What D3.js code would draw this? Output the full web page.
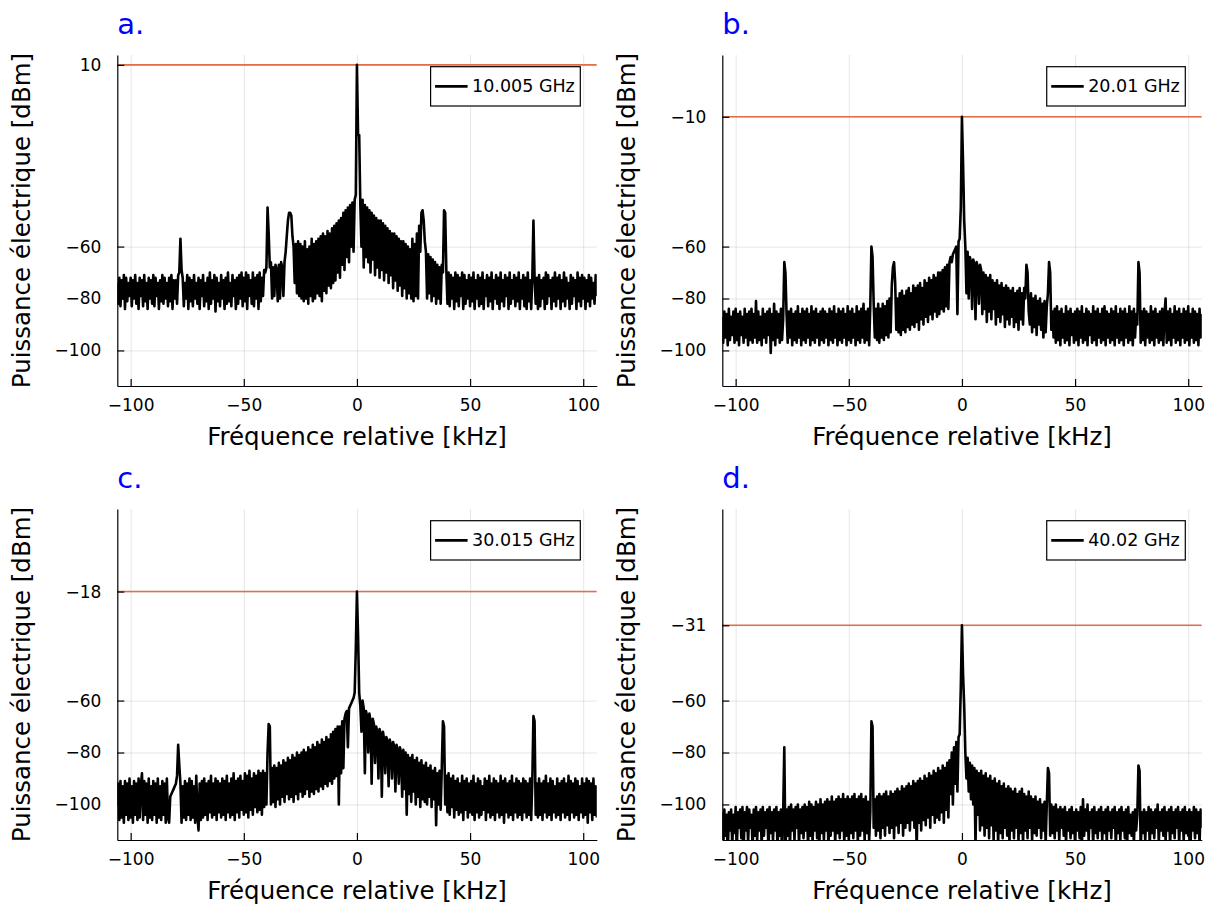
<!DOCTYPE html>
<html>
<head>
<meta charset="utf-8">
<script src="https://d3js.org/d3.v7.min.js"></script>
<style>
    body { margin: 0; background: #fff; }
    svg { font-family: "DejaVu Sans", sans-serif; }
    .grid line { stroke: #000; stroke-opacity: 0.1; stroke-width: 1; }
    .grid path { display: none; }
    .axis path, .axis line { stroke: #000; stroke-width: 1.2; }
    .axis text { font-size: 17px; fill: #000; }
</style>
</head>
<body>
<script>
    // Frequency grid (kHz), one sample every 0.5 kHz from -106 to 106
    var freqs = d3.range(-106, 106.25, 0.5);

    // Panel texts
    var panelTitles = ["a.", "b.", "c.", "d."];
    var legendLabels = ["10.005 GHz", "20.01 GHz", "30.015 GHz", "40.02 GHz"];
    var peakLevels = [10, -10, -18, -31];
    var xTicks = [-100, -50, 0, 50, 100];
    var yTicks = [[10, -60, -80, -100], [-10, -60, -80, -100], [-18, -60, -80, -100], [-31, -60, -80, -100]];

    // Spectra (dBm)
    var specA = [
        -74,-82,-72,-83,-73,-80,-71,-84,-72,-81,-74,-79,                                   // -106 .. -100.5
        -72,-83,-73,-80,-71,-82,-74,-84,-72,-79,-73,-83,-71,-81,-74,-84,-72,-80,-73,-82,   // -100 .. -90.5
        -71,-83,-72,-79,-74,-84,-73,-81,-71,-82,-72,-80,-74,-83,-72,-81,-71,-84,-73,-80,   // -90
        -73,-82,-71,-70,-57,-69,-72,-83,-74,-80,-71,-84,-72,-81,-73,-83,-71,-80,-74,-82,   // -80
        -72,-84,-73,-79,-71,-83,-74,-81,-72,-84,-70,-82,-73,-80,-71,-85,-72,-81,-74,-83,   // -70
        -71,-80,-73,-84,-72,-82,-70,-81,-74,-83,-71,-79,-73,-84,-72,-82,-71,-80,-70,-83,   // -60
        -72,-81,-70,-84,-71,-79,-73,-82,-70,-83,-72,-80,-71,-84,-70,-81,-72,-79,-69,-70,   // -50
        -68,-45,-55,-68,-66,-80,-68,-79,-67,-69,-81,-67,-80,-66,-68,-79,-66,-62,-56,-50,   // -40
        -47,-47,-48,-56,-60,-74,-59,-78,-58,-79,-59,-80,-60,-81,-58,-80,-61,-82,-60,-79,   // -30
        -57,-81,-59,-80,-58,-78,-57,-79,-56,-81,-55,-77,-56,-78,-54,-75,-55,-76,-53,-74,   // -20
        -52,-73,-51,-70,-50,-72,-49,-67,-47,-69,-46,-64,-45,-66,-44,-60,-43,-62,-42,-40,   // -10
        10,                                                                                // 0
        -17,-17,-44,-60,-42,-68,-44,-64,-45,-66,-46,-70,-47,-65,-48,-71,-49,-68,-50,-72,   // 0.5 .. 10
        -50,-69,-51,-73,-52,-70,-53,-74,-54,-71,-55,-76,-55,-73,-56,-77,-57,-75,-58,-79,   // 10.5
        -58,-76,-59,-80,-60,-78,-61,-80,-57,-81,-59,-79,-55,-80,-52,-62,-47,-46,-50,-58,   // 20.5
        -62,-80,-63,-78,-64,-81,-65,-79,-66,-82,-67,-80,-68,-82,-67,-70,-46,-47,-69,-82,   // 30.5
        -70,-83,-71,-80,-72,-84,-70,-81,-71,-83,-72,-79,-70,-84,-71,-82,-73,-80,-71,-83,   // 40.5
        -72,-81,-70,-84,-73,-80,-71,-83,-72,-82,-70,-84,-73,-79,-71,-83,-72,-81,-70,-84,   // 50.5
        -73,-80,-71,-82,-72,-84,-70,-81,-73,-83,-71,-79,-72,-84,-70,-82,-73,-80,-71,-83,   // 60.5
        -72,-81,-70,-84,-73,-80,-71,-83,-72,-84,-70,-81,-73,-84,-72,-50,-72,-82,-72,-84,   // 70.5
        -71,-83,-73,-80,-72,-84,-70,-82,-71,-79,-73,-84,-72,-81,-70,-83,-72,-80,-71,-84,   // 80.5
        -73,-81,-70,-83,-72,-80,-74,-84,-71,-82,-72,-79,-73,-84,-70,-81,-72,-83,-71,-80,   // 90.5
        -72,-84,-73,-81,-71,-83,-72,-80,-74,-82,-71,-79                                    // 100.5 .. 106
    ];

    var specB = [
        -87,-97,-85,-95,-86,-98,-84,-96,-87,-94,-85,-97,
        -84,-96,-86,-98,-85,-94,-87,-97,-84,-95,-86,-98,-85,-96,-84,-97,-86,-95,-81,-97,
        -85,-96,-87,-98,-84,-95,-86,-97,-85,-94,-84,-101,-86,-96,-82,-98,-85,-95,-86,-97,
        -84,-96,-88,-66,-70,-86,-97,-85,-95,-84,-98,-86,-96,-85,-97,-83,-95,-86,-98,-84,
        -96,-85,-97,-84,-95,-86,-98,-83,-96,-85,-97,-84,-95,-86,-98,-85,-96,-84,-97,-85,
        -95,-86,-98,-84,-96,-85,-97,-83,-95,-86,-98,-84,-96,-85,-97,-84,-95,-86,-98,-83,
        -96,-85,-97,-84,-95,-86,-98,-83,-96,-85,-97,-84,-95,-82,-97,-85,-96,-84,-98,-83,
        -60,-64,-82,-95,-84,-96,-82,-97,-84,-95,-82,-96,-83,-94,-81,-95,-80,-93,-75,-68,
        -66,-74,-92,-80,-93,-78,-94,-77,-92,-79,-93,-77,-91,-76,-92,-78,-90,-75,-91,-76,
        -89,-75,-92,-74,-88,-76,-90,-73,-87,-74,-89,-72,-86,-73,-88,-71,-85,-72,-87,-70,
        -86,-70,-84,-69,-85,-68,-83,-67,-84,-66,-64,-66,-63,-62,-61,-60,-86,-58,-57,-45,
        -10,
        -28,-50,-60,-78,-62,-80,-64,-66,-84,-65,-67,-88,-66,-68,-82,-67,-69,-86,-70,-84,
        -71,-89,-72,-85,-71,-88,-73,-84,-74,-90,-73,-87,-75,-89,-74,-86,-76,-91,-75,-88,
        -76,-90,-77,-87,-76,-91,-78,-89,-77,-92,-76,-88,-78,-90,-76,-80,-67,-70,-85,-90,
        -78,-93,-80,-91,-79,-94,-81,-90,-80,-92,-82,-95,-81,-93,-83,-78,-66,-70,-92,-85,
        -95,-84,-97,-83,-96,-85,-98,-84,-95,-86,-97,-83,-96,-85,-98,-84,-94,-86,-97,-85,
        -96,-84,-98,-85,-95,-83,-97,-86,-96,-84,-98,-85,-94,-86,-97,-83,-96,-85,-98,-84,
        -95,-86,-97,-84,-96,-83,-98,-85,-95,-86,-97,-84,-96,-85,-98,-83,-95,-86,-97,-84,
        -96,-85,-98,-84,-95,-86,-97,-83,-96,-85,-98,-84,-95,-86,-90,-66,-70,-97,-85,-96,
        -84,-98,-85,-95,-86,-97,-83,-96,-85,-98,-84,-95,-86,-97,-85,-96,-84,-98,-86,-80,
        -97,-85,-96,-84,-98,-86,-95,-83,-97,-85,-96,-84,-98,-86,-95,-84,-97,-85,-96,-83,
        -98,-86,-95,-84,-97,-85,-96,-86,-98,-84,-95,-86
    ];

    var specC = [
        -100,-92,-106,-91,-105,-93,-107,-91,-104,-92,-106,-90,
        -105,-93,-107,-91,-104,-92,-106,-90,-105,-93,-88,-106,-91,-104,-92,-107,-90,-105,-93,-106,
        -91,-104,-92,-107,-90,-105,-93,-106,-91,-104,-92,-107,-90,-105,-107,-97,-96,-95,-94,-93,
        -92,-89,-77,-85,-92,-107,-93,-105,-91,-106,-92,-104,-90,-106,-91,-105,-93,-107,-89,-104,
        -110,-92,-106,-91,-105,-90,-104,-92,-106,-91,-103,-89,-105,-92,-104,-90,-106,-91,-103,-92,
        -105,-90,-104,-91,-106,-89,-103,-92,-105,-90,-104,-88,-106,-91,-103,-90,-105,-89,-102,-91,
        -104,-88,-103,-89,-105,-87,-102,-90,-104,-88,-101,-89,-103,-87,-102,-88,-104,-87,-101,-88,
        -100,-80,-69,-70,-100,-86,-99,-85,-101,-86,-98,-84,-100,-85,-97,-83,-99,-84,-96,-82,
        -98,-83,-97,-81,-99,-82,-96,-80,-98,-81,-95,-80,-97,-79,-96,-80,-94,-78,-97,-79,
        -95,-77,-96,-78,-94,-76,-95,-77,-93,-75,-94,-76,-92,-74,-93,-75,-91,-73,-92,-72,
        -90,-71,-89,-70,-100,-70,-88,-68,-86,-67,-65,-64,-78,-63,-62,-61,-60,-59,-57,-40,
        -18,
        -35,-57,-62,-72,-60,-63,-88,-64,-66,-80,-65,-68,-92,-67,-69,-84,-70,-72,-90,-71,
        -73,-97,-72,-75,-88,-74,-76,-93,-75,-77,-90,-76,-78,-95,-77,-79,-92,-78,-80,-97,
        -79,-94,-80,-104,-81,-96,-82,-99,-81,-95,-83,-100,-82,-97,-84,-101,-83,-98,-85,-99,
        -84,-100,-86,-97,-85,-101,-87,-98,-86,-108,-88,-100,-87,-102,-86,-68,-70,-100,-89,-103,
        -88,-104,-90,-101,-89,-105,-91,-102,-90,-104,-92,-103,-89,-106,-91,-102,-90,-105,-92,-103,
        -91,-104,-89,-106,-92,-103,-90,-105,-91,-104,-93,-102,-90,-106,-91,-103,-89,-105,-92,-104,
        -90,-106,-91,-103,-92,-105,-89,-104,-91,-107,-90,-103,-92,-105,-91,-104,-89,-106,-92,-103,
        -90,-105,-91,-104,-92,-106,-90,-103,-91,-105,-92,-104,-90,-106,-91,-66,-68,-104,-92,-105,
        -90,-104,-92,-106,-91,-103,-89,-105,-92,-104,-90,-106,-91,-103,-93,-105,-90,-104,-92,-106,
        -91,-103,-90,-105,-92,-104,-89,-106,-91,-103,-92,-105,-90,-104,-91,-106,-93,-103,-90,-105,
        -92,-104,-90,-107,-91,-103,-92,-106,-90,-104,-93,-105
    ];

    var specD = [
        -103,-118,-102,-112,-104,-120,-103,-110,-102,-116,-104,-111,
        -101,-118,-103,-109,-102,-113,-101,-119,-103,-110,-101,-115,-102,-109,-104,-117,-102,-112,-101,-114,
        -103,-110,-102,-116,-101,-112,-103,-109,-102,-118,-101,-111,-103,-114,-102,-110,-101,-117,-103,-112,
        -102,-120,-103,-78,-119,-102,-112,-101,-117,-100,-110,-102,-114,-101,-109,-100,-116,-102,-111,-101,
        -113,-100,-110,-101,-117,-99,-112,-100,-115,-101,-110,-99,-113,-100,-116,-98,-111,-100,-114,-99,
        -110,-98,-117,-99,-112,-97,-110,-99,-115,-98,-111,-97,-113,-98,-110,-96,-116,-98,-112,-97,
        -114,-98,-111,-97,-113,-96,-110,-98,-115,-97,-112,-96,-110,-98,-114,-97,-111,-99,-114,-103,
        -68,-70,-109,-98,-112,-97,-110,-96,-113,-97,-109,-96,-112,-95,-108,-97,-111,-95,-109,-96,
        -113,-95,-108,-94,-111,-95,-107,-93,-112,-94,-109,-93,-107,-92,-110,-93,-106,-91,-109,-92,
        -118,-91,-107,-90,-110,-91,-106,-89,-108,-90,-105,-88,-109,-89,-104,-87,-107,-88,-105,-86,
        -106,-87,-103,-85,-107,-86,-102,-84,-105,-83,-96,-80,-100,-78,-92,-76,-95,-74,-73,-55,
        -31,
        -50,-62,-80,-90,-82,-95,-84,-98,-85,-100,-86,-116,-87,-104,-88,-110,-87,-108,-89,-112,
        -88,-109,-90,-113,-89,-108,-91,-114,-90,-110,-92,-116,-91,-111,-93,-113,-92,-109,-94,-112,
        -93,-115,-94,-110,-95,-113,-94,-109,-96,-114,-95,-111,-94,-116,-96,-110,-97,-113,-95,-109,
        -97,-114,-98,-111,-97,-112,-99,-109,-98,-113,-100,-110,-99,-115,-100,-86,-88,-112,-100,-111,
        -101,-113,-100,-110,-102,-114,-101,-109,-102,-112,-101,-115,-103,-110,-102,-113,-101,-111,-103,-116,
        -102,-110,-103,-113,-101,-117,-98,-112,-102,-110,-100,-114,-103,-109,-102,-116,-101,-111,-103,-113,
        -102,-110,-101,-114,-103,-111,-102,-115,-101,-110,-103,-113,-102,-109,-101,-116,-103,-111,-102,-114,
        -101,-110,-103,-113,-102,-116,-101,-111,-104,-112,-103,-115,-102,-110,-104,-85,-87,-118,-103,-111,
        -102,-114,-103,-110,-101,-116,-102,-111,-103,-113,-102,-109,-100,-115,-103,-110,-102,-112,-101,-114,
        -103,-110,-102,-116,-101,-111,-103,-113,-102,-109,-101,-115,-103,-110,-102,-114,-101,-111,-103,-112,
        -102,-116,-103,-110,-101,-113,-102,-111,-103,-115,-102,-109
    ];

    var spectra = [specA, specB, specC, specD];

    // Layout
    var SVGWidth = 1213, SVGHeight = 909;
    var plotLefts = [117.3, 722.3], plotTops = [55, 509];
    var width = 479.5, height = 331;

    var svg = d3.select("body").append("svg")
        .attr("width", SVGWidth)
        .attr("height", SVGHeight);

    // Scales (same for every panel)
    var x = d3.scaleLinear().domain([-105.9, 106]).range([0, width]);
    var y = d3.scaleLinear().domain([-113.7, 13.8]).range([height, 0]);
    var fmt = function(d) { return d < 0 ? "\u2212" + Math.abs(d) : String(d); };

    var line = d3.line()
        .x(function(d) { return x(d[0]); })
        .y(function(d) { return y(d[1]); });

    spectra.forEach(function(spec, i) {
        var left = plotLefts[i % 2], top = plotTops[Math.floor(i / 2)];
        var g = svg.append("g").attr("transform", "translate(" + left + "," + top + ")");

        // grid
        g.append("g").attr("class", "grid")
            .attr("transform", "translate(0," + height + ")")
            .call(d3.axisBottom(x).tickValues(xTicks).tickSize(-height).tickFormat(""));
        g.append("g").attr("class", "grid")
            .call(d3.axisLeft(y).tickValues(yTicks[i]).tickSize(-width).tickFormat(""));

        // data, clipped to the plot area
        g.append("clipPath").attr("id", "clip" + i)
            .append("rect").attr("width", width).attr("height", height);

        var plot = g.append("g").attr("clip-path", "url(#clip" + i + ")");

        plot.append("line")
            .attr("x1", 0).attr("x2", width)
            .attr("y1", y(peakLevels[i])).attr("y2", y(peakLevels[i]))
            .attr("stroke", "#e26f46")
            .attr("stroke-width", 1.6);

        plot.append("path")
            .datum(freqs.map(function(f, k) { return [f, spec[k]]; }))
            .attr("d", line)
            .attr("fill", "none")
            .attr("stroke", "#000")
            .attr("stroke-width", 2.6)
            .attr("stroke-linejoin", "round");

        // axes, ticks pointing inward
        g.append("g").attr("class", "axis")
            .attr("transform", "translate(0," + height + ")")
            .call(d3.axisBottom(x).tickValues(xTicks).tickSize(-7).tickSizeOuter(0).tickPadding(13).tickFormat(fmt));
        g.append("g").attr("class", "axis")
            .call(d3.axisLeft(y).tickValues(yTicks[i]).tickSize(-7).tickSizeOuter(0).tickPadding(16).tickFormat(fmt));
        g.selectAll(".axis text").attr("font-family", "DejaVu Sans");

        // axis labels
        g.append("text")
            .attr("x", width / 2).attr("y", height + 59)
            .attr("text-anchor", "middle")
            .style("font-size", "24.5px")
            .text("Fréquence relative [kHz]");

        g.append("text")
            .attr("transform", "translate(-87," + (height / 2) + ") rotate(-90)")
            .attr("text-anchor", "middle")
            .style("font-size", "24.5px")
            .text("Puissance électrique [dBm]");

        // panel title
        g.append("text")
            .attr("x", 0).attr("y", -21.5)
            .style("font-size", "29px")
            .attr("fill", "#0000ff")
            .text(panelTitles[i]);

        // legend
        var leg = g.append("g");
        var box = leg.append("rect")
            .attr("fill", "#fff").attr("stroke", "#000").attr("stroke-width", 1.2);
        var lt = leg.append("text")
            .style("font-size", "17.5px")
            .attr("dy", "0.35em")
            .text(legendLabels[i]);
        var tw = lt.node().getComputedTextLength();
        var bw = tw + 47, bh = 39.3;
        var bx = width - 16.5 - bw, by = 11.7;
        box.attr("x", bx).attr("y", by).attr("width", bw).attr("height", bh);
        lt.attr("x", bx + 41.5).attr("y", by + bh / 2);
        leg.append("line")
            .attr("x1", bx + 4.5).attr("x2", bx + 37)
            .attr("y1", by + bh / 2).attr("y2", by + bh / 2)
            .attr("stroke", "#000").attr("stroke-width", 2.7);
    });
</script>
</body>
</html>
